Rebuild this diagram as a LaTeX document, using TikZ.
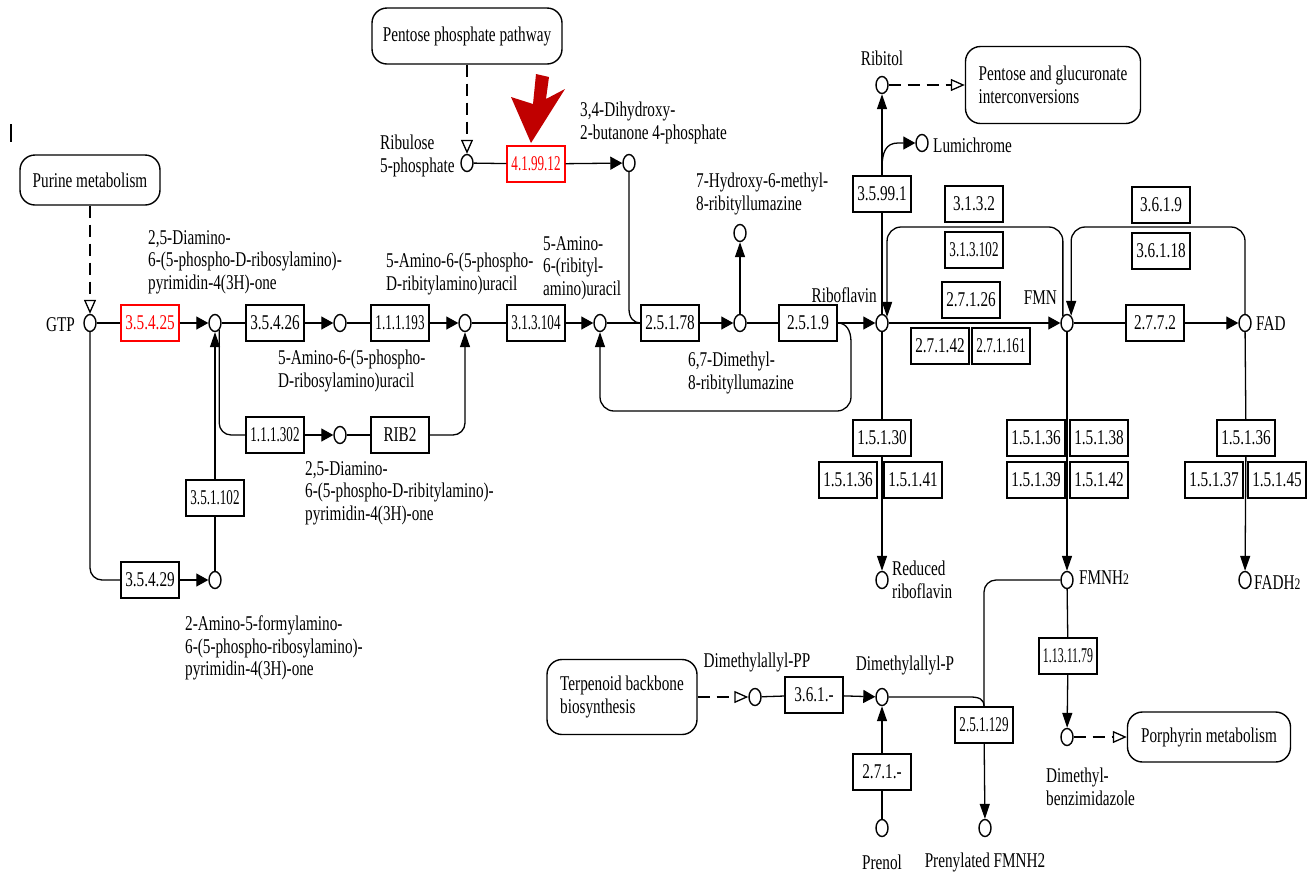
\documentclass[tikz,border=0pt]{standalone}
\usepackage{fontspec}
\setmainfont{Liberation Serif}[FakeStretch=0.725]
\usetikzlibrary{arrows.meta,shapes.geometric}
\definecolor{hitred}{RGB}{255,0,0}
\definecolor{markred}{RGB}{192,0,0}
\newcommand{\sq}[1]{\scalebox{0.86}[1]{#1}}
\newcommand{\sqq}[1]{\scalebox{0.78}[1]{#1}}
\newcommand{\subtwo}{{\fontsize{16}{16}\selectfont 2}}

\begin{document}
\begin{tikzpicture}[x=1pt,y=-1pt,
  every node/.style={font=\fontsize{21}{22.5}\selectfont, inner sep=0pt},
  enz/.style={draw, line width=1.4pt, minimum width=58pt, minimum height=36pt, fill=white},
  hit/.style={enz, draw=hitred, text=hitred},
  cpd/.style={ellipse, draw, line width=1.4pt, minimum width=12pt, minimum height=17pt, fill=white},
  pmap/.style={draw, line width=1.4pt, rounded corners=15pt, align=left, fill=white},
  lbl/.style={align=left},
  plain/.style={line width=1.3pt},
  harr/.style={line width=1.3pt, -{Triangle[length=12pt,width=13pt]}},
  varr/.style={line width=1.3pt, -{Triangle[length=15pt,width=10pt]}},
  maplink/.style={line width=1.3pt, dash pattern=on 12pt off 7pt, -{Triangle[open,length=14pt,width=12pt]}},
]
\fill[white] (0,0) rectangle (1314,879);
\useasboundingbox (0,0) rectangle (1314,879);

% ---------- pathway maps ----------
\node[pmap, minimum width=140pt, minimum height=50pt] (purine) at (90,180) {Purine metabolism};
\node[pmap, minimum width=190pt, minimum height=56pt] (ppp) at (467,36) {Pentose phosphate pathway};
\node[pmap, minimum width=175pt, minimum height=77pt] (pgmap) at (1053,85) {Pentose and glucuronate\\interconversions};
\node[pmap, minimum width=150pt, minimum height=75pt] (terp) at (622,697) {Terpenoid backbone\\biosynthesis};
\node[pmap, minimum width=163pt, minimum height=50pt] (porph) at (1209,737) {Porphyrin metabolism};

% ---------- compounds ----------
\node[cpd] (gtp) at (90,323) {};
\node[cpd] (cA) at (215,323) {};
\node[cpd] (cB) at (340,323) {};
\node[cpd] (cC) at (465,323) {};
\node[cpd] (cD) at (600,323) {};
\node[cpd] (cE) at (740,323) {};
\node[cpd] (cHyd) at (740,233) {};
\node[cpd] (ribf) at (882,323) {};
\node[cpd] (fmn) at (1067,323) {};
\node[cpd] (fad) at (1245,323) {};
\node[cpd] (ribul) at (467,163) {};
\node[cpd] (dhbp) at (629,163) {};
\node[cpd] (ribitol) at (882,85) {};
\node[cpd] (lumi) at (922,143) {};
\node[cpd] (redrib) at (882,580) {};
\node[cpd] (fmnh2) at (1067,580) {};
\node[cpd] (fadh2) at (1245,580) {};
\node[cpd] (cF) at (340,435) {};
\node[cpd] (cG) at (215,580) {};
\node[cpd] (dmapp) at (755,697) {};
\node[cpd] (dmap) at (882,697) {};
\node[cpd] (prenol) at (882,828) {};
\node[cpd] (pfmnh2) at (985,828) {};
\node[cpd] (dmb) at (1067,737) {};

% ---------- enzymes ----------
\node[hit] (e35425) at (150,323) {3.5.4.25};
\node[enz] (e35426) at (275,323) {3.5.4.26};
\node[enz] (e111193) at (400,323) {\sq{1.1.1.193}};
\node[enz] (e313104) at (536,323) {\sq{3.1.3.104}};
\node[enz] (e25178) at (670,323) {2.5.1.78};
\node[enz] (e2519) at (808,323) {2.5.1.9};
\node[enz] (e27126) at (971,300) {2.7.1.26};
\node[enz] (e27142) at (940,346) {2.7.1.42};
\node[enz] (e271161) at (1001,346) {\sq{2.7.1.161}};
\node[enz] (e2772) at (1155,323) {2.7.7.2};
\node[hit] (e419912) at (536,164) {\sq{4.1.99.12}};
\node[enz] (e3132) at (974,204) {3.1.3.2};
\node[enz] (e313102) at (974,250) {\sq{3.1.3.102}};
\node[enz] (e3619) at (1161,205) {3.6.1.9};
\node[enz] (e36118) at (1161,251) {3.6.1.18};
\node[enz] (e35991) at (882,194) {3.5.99.1};
\node[enz] (e15130) at (882,438) {1.5.1.30};
\node[enz] (e15136a) at (848,480) {1.5.1.36};
\node[enz] (e15141) at (913,480) {1.5.1.41};
\node[enz] (e15136b) at (1036,438) {1.5.1.36};
\node[enz] (e15138) at (1099,438) {1.5.1.38};
\node[enz] (e15139) at (1036,480) {1.5.1.39};
\node[enz] (e15142) at (1099,480) {1.5.1.42};
\node[enz] (e15136c) at (1246,438) {1.5.1.36};
\node[enz] (e15137) at (1214,480) {1.5.1.37};
\node[enz] (e15145) at (1277,480) {1.5.1.45};
\node[enz] (e111302) at (275,435) {\sq{1.1.1.302}};
\node[enz] (rib2) at (400,435) {RIB2};
\node[enz] (e351102) at (215,498) {\sq{3.5.1.102}};
\node[enz] (e35429) at (150,580) {3.5.4.29};
\node[enz] (e361) at (814,695) {3.6.1.-};
\node[enz] (e271) at (882,772) {2.7.1.-};
\node[enz] (e251129) at (984,725) {\sq{2.5.1.129}};
\node[enz] (e1131179) at (1068,656) {\sqq{1.13.11.79}};

% ---------- compound names ----------
\node[anchor=east] at (75,325) {GTP};
\node[lbl, anchor=west] at (148,262) {2,5-Diamino-\\6-(5-phospho-D-ribosylamino)-\\pyrimidin-4(3H)-one};
\node[lbl, anchor=west] at (278,371) {5-Amino-6-(5-phospho-\\D-ribosylamino)uracil};
\node[lbl, anchor=west] at (386,274) {5-Amino-6-(5-phospho-\\D-ribitylamino)uracil};
\node[lbl, anchor=west] at (543,268) {5-Amino-\\6-(ribityl-\\amino)uracil};
\node[lbl, anchor=west] at (580,123) {3,4-Dihydroxy-\\2-butanone 4-phosphate};
\node[lbl, anchor=west] at (380,156) {Ribulose\\5-phosphate};
\node[lbl, anchor=west] at (696,194) {7-Hydroxy-6-methyl-\\8-ribityllumazine};
\node[lbl, anchor=west] at (688,373) {6,7-Dimethyl-\\8-ribityllumazine};
\node[anchor=east] at (877,295) {Riboflavin};
\node[anchor=east] at (1057,298) {FMN};
\node[anchor=west] at (1256,324) {FAD};
\node at (882,58) {Ribitol};
\node[anchor=west] at (933,145) {Lumichrome};
\node[lbl, anchor=west] at (892,580) {Reduced\\riboflavin};
\node[anchor=west] at (1079,578) {FMNH\subtwo};
\node[anchor=west] at (1254,583) {FADH\subtwo};
\node[lbl, anchor=west] at (305,493) {2,5-Diamino-\\6-(5-phospho-D-ribitylamino)-\\pyrimidin-4(3H)-one};
\node[lbl, anchor=west] at (185,648) {2-Amino-5-formylamino-\\6-(5-phospho-ribosylamino)-\\pyrimidin-4(3H)-one};
\node at (757,662) {Dimethylallyl-PP};
\node at (905,665) {Dimethylallyl-P};
\node at (882,862) {Prenol};
\node at (985,862) {Prenylated FMNH2};
\node[lbl, anchor=west] at (1046,787) {Dimethyl-\\benzimidazole};

% ---------- links to other maps ----------
\draw[maplink] (purine) -- (gtp);
\draw[maplink] (ppp) -- (ribul);
\draw[maplink] (ribitol) -- (pgmap);
\draw[maplink] (terp) -- (dmapp);
\draw[maplink] (dmb) -- (porph);

% ---------- main chain ----------
\draw[plain] (gtp) -- (e35425);
\draw[harr] (e35425) -- (cA);
\draw[plain] (cA) -- (e35426);
\draw[harr] (e35426) -- (cB);
\draw[plain] (cB) -- (e111193);
\draw[harr] (e111193) -- (cC);
\draw[plain] (cC) -- (e313104);
\draw[harr] (e313104) -- (cD);
\draw[plain] (cD) -- (e25178);
\draw[harr] (e25178) -- (cE);
\draw[plain] (cE) -- (e2519);
\draw[harr] (e2519) -- (ribf);
\draw[harr] (ribf) -- (fmn);
\draw[plain] (fmn) -- (e2772);
\draw[harr] (e2772) -- (fad);
\draw[varr] (cE) -- (cHyd);

% ribulose 5-phosphate branch
\draw[plain] (ribul) -- (e419912);
\draw[harr] (e419912) -- (dhbp);
\draw[plain] (dhbp) -- (629,309) .. controls (629,318) and (634,323) .. (e25178.west);

% lumazine synthase / riboflavin synthase recycling loop
\draw[varr] (e2519.east) .. controls (846,323) and (851,330) .. (851,342)
  [rounded corners=14pt] -- (851,411) -- (600,411) -- (cD);

% GTP side routes
\draw[plain, rounded corners=12pt] (gtp) |- (e35429);
\draw[harr] (e35429) -- (cG);
\draw[plain] (cG) -- (e351102);
\draw[varr] (e351102) -- (cA);
\draw[plain, rounded corners=12pt] (cA.-60) |- (e111302);
\draw[harr] (e111302) -- (cF);
\draw[plain] (cF) -- (rib2);
\draw[varr, rounded corners=12pt] (rib2) -| (cC);

% riboflavin degradation
\draw[plain] (ribf) -- (e35991);
\draw[varr] (e35991) -- (ribitol);
\coordinate (lumbr) at (882,168);
\draw[harr] (lumbr) .. controls (882,152) and (886,143) .. (898,143) -- (lumi);

% FMN / FAD back reactions
\draw[varr, rounded corners=14pt] (fmn.120) -- (fmn.120 |- 0,227) -- (ribf.50 |- 0,227) -- (ribf.50);
\draw[varr, rounded corners=14pt] (fad.90) -- (fad.90 |- 0,227) -- (fmn.60 |- 0,227) -- (fmn.60);

% reductions
\draw[plain] (ribf) -- (e15130);
\draw[varr] (e15130) -- (redrib);
\draw[varr] (fmn) -- (fmnh2);
\draw[plain] (fad) -- (e15136c);
\draw[varr] (e15136c) -- (fadh2);

% prenylated FMNH2 and dimethylbenzimidazole
\draw[plain] (dmapp) -- (e361);
\draw[harr] (e361) -- (dmap);
\draw[plain] (prenol) -- (e271);
\draw[varr] (e271) -- (dmap);
\draw[plain, rounded corners=12pt] (fmnh2) -- (984,580) -- (e251129.north);
\draw[plain] (dmap) -- (970,697) .. controls (979,697) and (984,699) .. (e251129.north);
\draw[varr] (e251129) -- (pfmnh2);
\draw[plain] (fmnh2) -- (e1131179);
\draw[varr] (e1131179) -- (dmb);

% highlight marker
\fill[markred] (536,74) -- (549,77) -- (546,99) -- (565,89) -- (531,143)
  -- (511,97) -- (533,104) -- cycle;

% stray tick at the upper left
\draw[line width=1.3pt] (11,124) -- (11,142);
\end{tikzpicture}
\end{document}
